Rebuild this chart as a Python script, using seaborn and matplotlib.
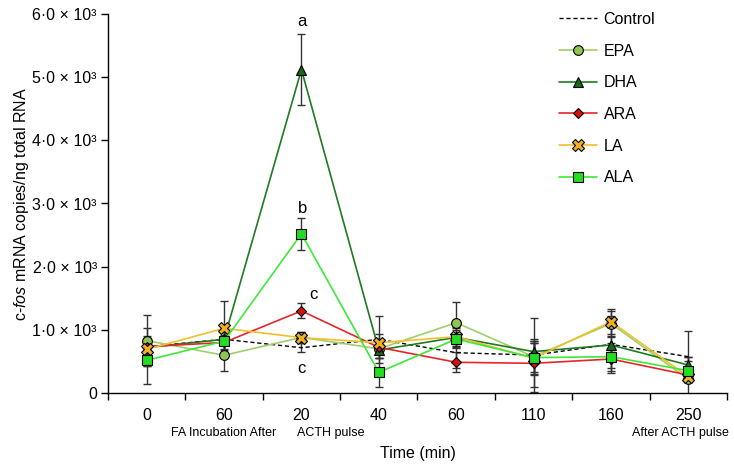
import matplotlib
matplotlib.use("Agg")
import matplotlib.pyplot as plt
import seaborn as sns
import numpy as np

sns.set_theme(style="ticks")
plt.rcParams['font.family'] = ['Liberation Sans', 'DejaVu Sans']
plt.rcParams['mathtext.fontset'] = 'custom'
plt.rcParams['mathtext.rm'] = 'Liberation Sans'
plt.rcParams['mathtext.it'] = 'Liberation Sans:italic'
for k in ['text.color', 'axes.labelcolor', 'xtick.color', 'ytick.color']:
    plt.rcParams[k] = 'black'

# ---- data ----
time_labels = ["0", "60", "20", "40", "60", "110", "160", "250"]
positions = list(range(len(time_labels)))

control = [733, 850, 717, 850, 638, 600, 770, 575]
control_err = [300, 200, 70, 375, 250, 590, 450, 400]

epa = [830, 597, 880, 700, 1113, 575, 1100, 217]
epa_err = [410, 250, 80, 150, 330, 250, 200, 355]

dha = [720, 850, 5120, 680, 880, 655, 760, 443]
dha_err = [150, 150, 560, 130, 150, 140, 120, 120]

ara = [733, 800, 1300, 723, 486, 470, 538, 285]
ara_err = [120, 120, 120, 110, 160, 380, 150, 100]

la = [691, 1024, 876, 796, 891, 549, 1129, 258]
la_err = [150, 430, 90, 140, 150, 250, 200, 80]

ala = [517, 820, 2520, 327, 855, 560, 575, 353]
ala_err = [380, 200, 250, 230, 140, 270, 220, 150]

series = [
    ("EPA", epa, epa_err, "#9fcf6a", "#8fc456", "o", 7),
    ("DHA", dha, dha_err, "#1f7a22", "#17691a", "^", 7),
    ("ARA", ara, ara_err, "#e8262a", "#d81010", "D", 5.5),
    ("LA", la, la_err, "#f2bf2a", "#f0b020", "X", 8),
    ("ALA", ala, ala_err, "#3ee83a", "#22dd22", "s", 7),
]

FS = 11.5

fig = plt.figure(figsize=(7.34, 4.65), dpi=100)
ax = fig.add_axes([108 / 734, 1 - 393 / 465, (727 - 108) / 734, (393 - 14) / 465])

# error bars
ebkw = dict(fmt="none", ecolor="#333333", elinewidth=1.0, capsize=3, capthick=1.0, zorder=2)
ax.errorbar(positions, control, yerr=control_err, **ebkw)
for name, vals, errs, lc, fc, mk, ms in series:
    ax.errorbar(positions, vals, yerr=errs, **ebkw)

# control
sns.lineplot(x=positions, y=control, ax=ax, color="black", linestyle=(0, (3, 2)),
             linewidth=1.0, label="Control", zorder=3)
for name, vals, errs, lc, fc, mk, ms in series:
    sns.lineplot(x=positions, y=vals, ax=ax, color=lc, linewidth=1.2, marker=mk,
                 markersize=ms, markerfacecolor=fc, markeredgecolor="black",
                 markeredgewidth=0.8, label=name, zorder=4)

ax.set_xlim(-0.5, 7.5)
ax.set_ylim(0, 6000)
ax.set_yticks([0, 1000, 2000, 3000, 4000, 5000, 6000])
ax.set_yticklabels(["0", "1·0 × 10³", "2·0 × 10³", "3·0 × 10³", "4·0 × 10³",
                    "5·0 × 10³", "6·0 × 10³"], fontsize=FS)
ax.set_xticks(positions)
ax.set_xticklabels(time_labels, fontsize=FS)
ax.tick_params(axis="x", which="major", length=0, pad=11)
ax.set_xticks(np.arange(-0.5, 8.0, 1.0), minor=True)
ax.tick_params(axis="x", which="minor", length=5, direction="out", width=1)
ax.tick_params(axis="y", length=5, direction="out", width=1, pad=3)
for s in ["top", "right"]:
    ax.spines[s].set_visible(False)
for s in ["left", "bottom"]:
    ax.spines[s].set_linewidth(1.0)
    ax.spines[s].set_color("black")

ax.set_xlabel("Time (min)", fontsize=FS, labelpad=16)
ax.set_ylabel(r"c-$\mathit{fos}$ mRNA copies/ng total RNA", fontsize=FS, labelpad=1)

# sub labels
trans = ax.get_xaxis_transform()
ax.text(1, -0.105, "FA Incubation After", transform=trans, ha="center", va="center", fontsize=9)
ax.text(1.94, -0.105, "ACTH pulse", transform=trans, ha="left", va="center", fontsize=9)
ax.text(7.52, -0.105, "After ACTH pulse", transform=trans, ha="right", va="center", fontsize=9, clip_on=False)

# significance letters
ax.text(2, 5880, "a", ha="center", va="center", fontsize=12)
ax.text(2.02, 2920, "b", ha="center", va="center", fontsize=12)
ax.text(2.15, 1560, "c", ha="center", va="center", fontsize=12)
ax.text(2.0, 390, "c", ha="center", va="center", fontsize=12)

leg = ax.legend(loc="upper left", bbox_to_anchor=(0.705, 1.043), frameon=False,
                fontsize=FS, handlelength=2.4, labelspacing=1.04, handletextpad=0.4)

fig.savefig("out.png", dpi=100)
